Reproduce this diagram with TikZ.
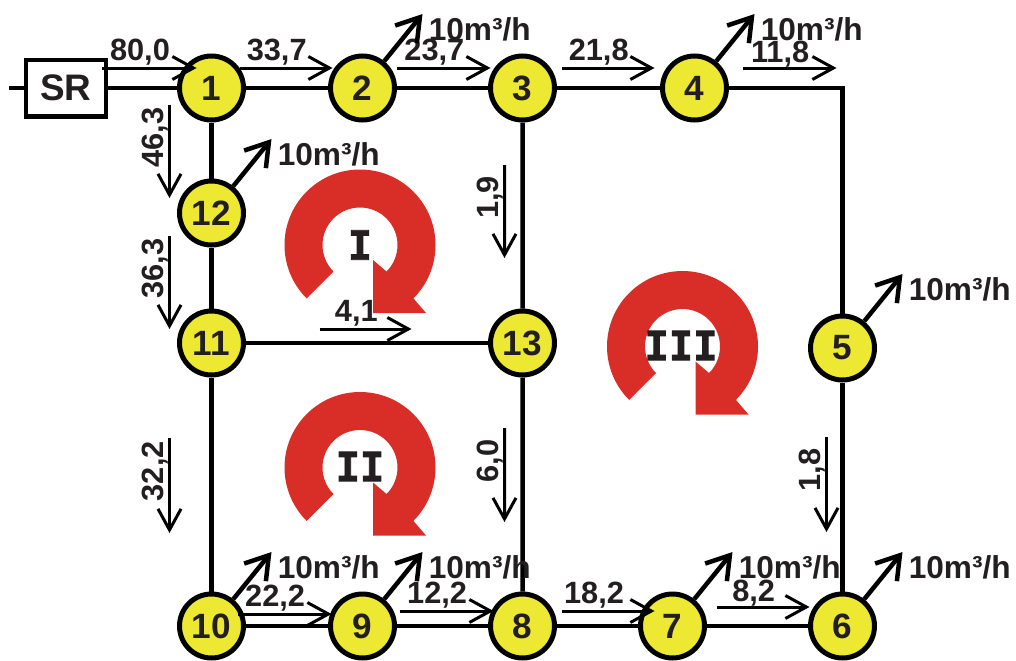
\documentclass[tikz,border=0pt]{standalone}
\usepackage{fontspec}
\setmainfont{Liberation Sans}
\newfontfamily\loopfont[BoldFeatures={FakeBold=2}]{DejaVu Sans Mono}
\usetikzlibrary{arrows.meta, positioning}
\definecolor{nodeyellow}{HTML}{EDE831}
\definecolor{loopred}{HTML}{D92D27}
\definecolor{inkdark}{HTML}{231F20}

\begin{document}
\begin{tikzpicture}[
        on grid,
        junction/.style={circle, draw=black, line width=0.1cm, fill=nodeyellow, minimum size=1.28cm, inner sep=0pt, text=inkdark, font=\bfseries\fontsize{20}{22}\selectfont},
        source/.style={draw=black, line width=0.09cm, minimum width=1.6cm, minimum height=1.13cm, text=inkdark, font=\bfseries\fontsize{21}{23}\selectfont},
        pipe/.style={line width=0.09cm},
        flow/.style={-{Straight Barb[length=0.42cm, width=0.46cm]}, line width=0.06cm},
        demand/.style={-{Straight Barb[length=0.44cm, width=0.56cm]}, line width=0.09cm},
        flowtext/.style={anchor=south, pos=0.4, inner sep=0.5pt, text=inkdark, font=\bfseries\fontsize{17.5}{20}\selectfont},
        flowdown/.style={flowtext, rotate=90, pos=0.35, inner sep=0pt},
        demandtext/.style={anchor=north west, inner sep=0.03cm, xshift=0.05cm, yshift=0.01cm, text=inkdark, font=\bfseries\fontsize{18}{20}\selectfont},
        looptext/.style={text=inkdark, font=\loopfont\bfseries\fontsize{23}{25}\selectfont},
        looparrow/.pic={\fill[loopred] (225:1.51) arc[start angle=225, end angle=-45, radius=1.51] -- (1.32,-1.36) -- (0.26,-1.36) -- (0.26,-0.30) -- (-45:0.75) arc[start angle=-45, end angle=225, radius=0.75] -- cycle;}
    ]

    \useasboundingbox (0,0) rectangle (20.32,-13.22);

    \pic at (7.2,-4.9) {looparrow};
    \pic at (7.2,-9.35) {looparrow};
    \pic at (13.65,-6.93) {looparrow};

    \node[junction] (n1) at (4.23,-1.76) {1};
    \node[junction, right=3.02cm of n1] (n2) {2};
    \node[junction, right=3.2cm of n2] (n3) {3};
    \node[junction, right=3.44cm of n3] (n4) {4};
    \node[junction, below=2.5cm of n1] (n12) {12};
    \node[junction, below=2.6cm of n12] (n11) {11};
    \node[junction, right=6.22cm of n11] (n13) {13};
    \node[junction, below=5.66cm of n11] (n10) {10};
    \node[junction, right=3.02cm of n10] (n9) {9};
    \node[junction, right=3.2cm of n9] (n8) {8};
    \node[junction, right=3cm of n8] (n7) {7};
    \node[junction, right=3.4cm of n7] (n6) {6};
    \node[junction, above=5.56cm of n6] (n5) {5};
    \node[source, left=2.91cm of n1] (SR) {SR};
    \coordinate[left=1.13cm of SR] (inlet);
    \coordinate (bend) at (n5 |- n4);

    \node[looptext] (loopI) at (7.2,-4.9) {I};
    \node[looptext] (loopII) at (7.2,-9.33) {II};
    \node[looptext] (loopIII) at (13.62,-6.91) {III};

    \draw[pipe] (inlet) -- (SR);
    \draw[pipe] (SR) -- (n1);
    \draw[pipe] (n1) -- (n2);
    \draw[pipe] (n2) -- (n3);
    \draw[pipe] (n3) -- (n4);
    \draw[pipe] (n4) -- (bend) -- (n5);
    \draw[pipe] (n5) -- (n6);
    \draw[pipe] (n6) -- (n7);
    \draw[pipe] (n7) -- (n8);
    \draw[pipe] (n8) -- (n9);
    \draw[pipe] (n9) -- (n10);
    \draw[pipe] (n10) -- (n11);
    \draw[pipe] (n11) -- (n12);
    \draw[pipe] (n12) -- (n1);
    \draw[pipe] (n11) -- (n13);
    \draw[pipe] (n3) -- (n13);
    \draw[pipe] (n13) -- (n8);

    \draw[flow] ([shift={(-0.12,0.4)}]SR.east) -- node[flowtext] {80,0} ([shift={(0.39,0.4)}]n1.west);
    \draw[flow] ([shift={(-0.13,0.4)}]n1.east) -- node[flowtext] {33,7} ([shift={(0.09,0.4)}]n2.west);
    \draw[flow] ([shift={(0,0.4)}]n2.east) -- node[flowtext] {23,7} ([shift={(0.05,0.4)}]n3.west);
    \draw[flow] ([shift={(0.09,0.4)}]n3.east) -- node[flowtext] {21,8} ([shift={(-0.11,0.4)}]n4.west);
    \draw[flow] ([shift={(0.27,0.4)}]n4.east) -- node[flowtext, yshift=-0.04cm] {11,8} ([shift={(-0.12,0.4)}]bend);
    \draw[flow] ([shift={(-0.84,0.35)}]n1.south) -- node[flowdown] {46,3} ([shift={(-0.84,-0.39)}]n12.north);
    \draw[flow] ([shift={(-0.84,0.23)}]n12.south) -- node[flowdown] {36,3} ([shift={(-0.84,-0.41)}]n11.north);
    \draw[flow] ([shift={(-0.36,-0.85)}]n3.south) -- node[flowdown] {1,9} ([shift={(-0.36,1.01)}]n13.north);
    \draw[flow] ([shift={(1.47,0.28)}]n11.east) -- node[flowtext] {4,1} ([shift={(-1.53,0.28)}]n13.west);
    \draw[flow] ([shift={(-0.84,-1.21)}]n11.south) -- node[flowdown] {32,2} ([shift={(-0.84,1.17)}]n10.north);
    \draw[flow] ([shift={(-0.36,-1.01)}]n13.south) -- node[flowdown] {6,0} ([shift={(-0.36,1.39)}]n8.north);
    \draw[flow] ([shift={(-0.32,-1.09)}]n5.south) -- node[flowdown] {1,8} ([shift={(-0.32,1.19)}]n6.north);
    \draw[flow] ([shift={(-0.17,0.24)}]n10.east) -- node[flowtext] {22,2} ([shift={(0.07,0.24)}]n9.west);
    \draw[flow] ([shift={(0.05,0.3)}]n9.east) -- node[flowtext] {12,2} ([shift={(0.11,0.3)}]n8.west);
    \draw[flow] ([shift={(0.09,0.3)}]n8.east) -- node[flowtext, pos=0.35] {18,2} ([shift={(0.33,0.3)}]n7.west);
    \draw[flow] ([shift={(0.19,0.38)}]n7.east) -- node[flowtext, yshift=-0.04cm] {8,2} ([shift={(0.03,0.38)}]n6.west);

    \draw[demand] (n2) -- ++(1.2,1.48) node[demandtext] {10m³/h};
    \draw[demand] (n4) -- ++(1.2,1.48) node[demandtext] {10m³/h};
    \draw[demand] (n12) -- ++(1.2,1.48) node[demandtext] {10m³/h};
    \draw[demand] (n5) -- ++(1.2,1.48) node[demandtext] {10m³/h};
    \draw[demand] (n10) -- ++(1.2,1.48) node[demandtext] {10m³/h};
    \draw[demand] (n9) -- ++(1.2,1.48) node[demandtext] {10m³/h};
    \draw[demand] (n7) -- ++(1.2,1.48) node[demandtext] {10m³/h};
    \draw[demand] (n6) -- ++(1.2,1.48) node[demandtext] {10m³/h};

    \end{tikzpicture}
\end{document}
